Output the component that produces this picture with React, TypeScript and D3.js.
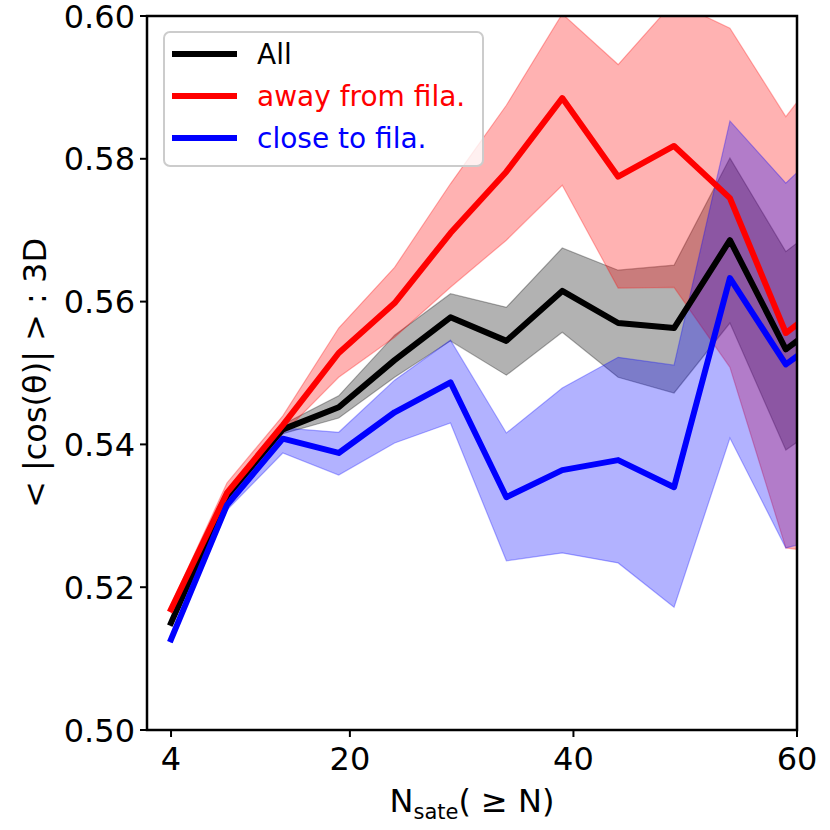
import * as d3 from "d3";

// x positions: N_sate >= N (last point lies beyond the axis and is clipped)
const nSate = [4, 9, 14, 19, 24, 29, 34, 39, 44, 49, 54, 59, 64];

const allMean = [0.515, 0.5328, 0.5421, 0.5452, 0.5518, 0.5578, 0.5545, 0.5615, 0.557, 0.5563, 0.5686, 0.5533, 0.5592];
const allUpper = [0.5155, 0.5336, 0.5428, 0.5468, 0.5553, 0.5611, 0.5592, 0.5675, 0.5644, 0.5651, 0.5801, 0.567, 0.573];
const allLower = [0.5145, 0.532, 0.5415, 0.5437, 0.5494, 0.5545, 0.5497, 0.5557, 0.5494, 0.5472, 0.557, 0.5392, 0.5447];

const awayMean = [0.5169, 0.5332, 0.5427, 0.5528, 0.5598, 0.5696, 0.5782, 0.5885, 0.5775, 0.5818, 0.5745, 0.5556, 0.5616];
const awayUpper = [0.5175, 0.5346, 0.544, 0.5563, 0.5648, 0.5765, 0.5875, 0.6003, 0.5932, 0.602, 0.5983, 0.5859, 0.596];
const awayLower = [0.5163, 0.5322, 0.5415, 0.5494, 0.555, 0.562, 0.5686, 0.5763, 0.5619, 0.562, 0.5508, 0.5255, 0.5245];

const closeMean = [0.5127, 0.5315, 0.5408, 0.5388, 0.5445, 0.5487, 0.5326, 0.5364, 0.5378, 0.534, 0.5633, 0.5512, 0.557];
const closeUpper = [0.5132, 0.5322, 0.5423, 0.5417, 0.549, 0.5546, 0.5416, 0.5479, 0.5522, 0.5511, 0.5853, 0.5766, 0.584];
const closeLower = [0.5122, 0.5308, 0.5388, 0.5357, 0.5402, 0.543, 0.5237, 0.5248, 0.5234, 0.5172, 0.5409, 0.5255, 0.5275];

const xTicks = [4, 20, 40, 60];
const yTicks = [0.5, 0.52, 0.54, 0.56, 0.58, 0.6];

const seriesNames = ["All", "away from fila.", "close to fila."];
const seriesColors = ["#000000", "#ff0000", "#0000ff"];

const W = 830;
const H = 830;
const M = { left: 147, right: 797, top: 16, bottom: 730 };
const FONT = "DejaVu Sans, sans-serif";

export default function App() {
  const x = d3.scaleLinear().domain([1.85, 60]).range([M.left, M.right]);
  const y = d3.scaleLinear().domain([0.5, 0.6]).range([M.bottom, M.top]);

  const line = d3
    .line<number>()
    .x((_, i) => x(nSate[i]))
    .y((d) => y(d));

  const band = (lo: number[], hi: number[]) =>
    d3
      .area<number>()
      .x((_, i) => x(nSate[i]))
      .y0((_, i) => y(lo[i]))
      .y1((_, i) => y(hi[i]))(nSate);

  const bands = [
    { lo: allLower, hi: allUpper, color: seriesColors[0] },
    { lo: awayLower, hi: awayUpper, color: seriesColors[1] },
    { lo: closeLower, hi: closeUpper, color: seriesColors[2] },
  ];
  const means = [allMean, awayMean, closeMean];

  return (
    <svg
      width={W}
      height={H}
      style={{ position: "absolute", left: 0, top: 0, background: "#fff" }}
      fontFamily={FONT}
    >
      <defs>
        <clipPath id="plot">
          <rect x={M.left} y={M.top} width={M.right - M.left} height={M.bottom - M.top} />
        </clipPath>
      </defs>

      <g clipPath="url(#plot)">
        {bands.map((b, i) => (
          <path
            key={"b" + i}
            d={band(b.lo, b.hi) ?? ""}
            fill={b.color}
            fillOpacity={0.3}
            stroke={b.color}
            strokeOpacity={0.3}
            strokeWidth={1.2}
          />
        ))}
        {means.map((m, i) => (
          <path
            key={"l" + i}
            d={line(m) ?? ""}
            fill="none"
            stroke={seriesColors[i]}
            strokeWidth={6}
            strokeLinejoin="round"
            strokeLinecap="square"
          />
        ))}
      </g>

      {/* axes frame */}
      <rect
        x={M.left}
        y={M.top}
        width={M.right - M.left}
        height={M.bottom - M.top}
        fill="none"
        stroke="#000"
        strokeWidth={2.5}
      />

      {xTicks.map((t) => (
        <g key={"xt" + t}>
          <line x1={x(t)} x2={x(t)} y1={M.bottom} y2={M.bottom + 7} stroke="#000" strokeWidth={2} />
          <text x={x(t)} y={M.bottom + 40} fontSize={32} textAnchor="middle">
            {t}
          </text>
        </g>
      ))}
      {yTicks.map((t) => (
        <g key={"yt" + t}>
          <line x1={M.left - 7} x2={M.left} y1={y(t)} y2={y(t)} stroke="#000" strokeWidth={2} />
          <text x={M.left - 12} y={y(t)} dy="0.36em" fontSize={32} textAnchor="end">
            {t.toFixed(2)}
          </text>
        </g>
      ))}

      <text x={(M.left + M.right) / 2} y={812} fontSize={32} textAnchor="middle">
        N<tspan fontSize={21} dy={7}>sate</tspan>
        <tspan dy={-7}>( ≥ N)</tspan>
      </text>
      <text
        transform={`translate(46,${(M.top + M.bottom) / 2}) rotate(-90)`}
        fontSize={32}
        textAnchor="middle"
      >
        {"< |cos(θ)| > : 3D"}
      </text>

      {/* legend */}
      <g>
        <rect x={164} y={32} width={319} height={134} rx={6} fill="#fff" fillOpacity={0.8} stroke="#cccccc" strokeWidth={2} />
        {seriesNames.map((name, i) => {
          const ly = 54 + i * 42;
          return (
            <g key={name}>
              <line x1={175} x2={234} y1={ly} y2={ly} stroke={seriesColors[i]} strokeWidth={6} strokeLinecap="square" />
              <text x={257} y={ly} dy="0.36em" fontSize={28} fill={seriesColors[i]}>
                {name}
              </text>
            </g>
          );
        })}
      </g>
    </svg>
  );
}
